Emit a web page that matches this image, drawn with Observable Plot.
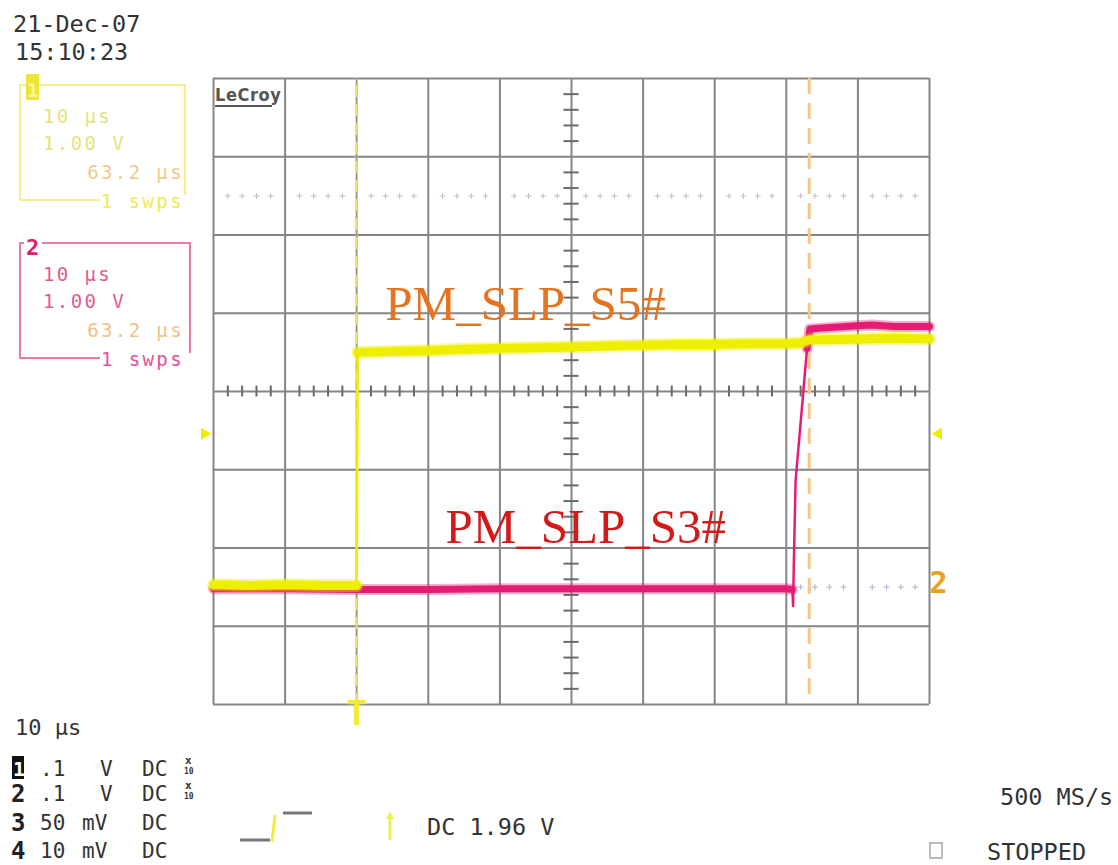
<!DOCTYPE html>
<html>
<head>
<meta charset="utf-8">
<script src="https://cdn.jsdelivr.net/npm/d3@7"></script>
<script src="https://cdn.jsdelivr.net/npm/@observablehq/plot@0.6"></script>
<style>
  html, body { margin: 0; padding: 0; background: #fff; }
  #wrap { position: relative; width: 1118px; height: 865px; overflow: hidden; background: #fff; }
  #wrap svg { position: absolute; left: 0; top: 0; }
</style>
</head>
<body>
<div id="wrap"></div>
<script>
// ---------------- DATA ----------------
// time in µs relative to trigger (10 µs/div), voltage in V (1.00 V/div), 0 V = channel ground marker
const ch1Time = [-20, -15, -10, -5, 0, 0.15, 5, 10, 15, 20, 25, 30, 35, 40, 45, 50, 55, 60, 62, 63.2, 65, 70, 75, 80];
const ch1Volt = [0.03, 0.02, 0.03, 0.02, 0.02, 3.00, 3.01, 3.02, 3.04, 3.05, 3.06, 3.07, 3.08, 3.09, 3.10, 3.10, 3.11, 3.11, 3.12, 3.16, 3.16, 3.17, 3.18, 3.17];

const ch2Time = [-20, -10, 0, 10, 20, 30, 40, 50, 60, 60.85, 60.95, 61.05, 61.3, 62.9, 63.3, 65, 70, 72, 75, 80];
const ch2Volt = [-0.02, -0.02, -0.03, -0.03, -0.02, -0.02, -0.02, -0.02, -0.02, -0.03, -0.24, 0.3, 1.36, 3.05, 3.30, 3.31, 3.34, 3.35, 3.33, 3.33];

const timeGrid = [-20, -10, 0, 10, 20, 30, 40, 50, 60, 70, 80];
const voltGrid = [-1.5, -0.5, 0.5, 1.5, 2.5, 3.5, 4.5, 5.5, 6.5];
const centerTime = 30;
const centerVolt = 2.5;

const triggerTime = 0;
const cursorTime = 63.2;
const triggerLevel = 1.96;
const refLevelHigh = 5.0;      // dotted reference line
const ch2Ground = 0;

const labelText = ["PM_SLP_S5#", "PM_SLP_S3#"];
const labelTime = [4.0, 12.4];
const labelVolt = [3.41, 0.56];

const dateText = "21-Dec-07";
const timeText = "15:10:23";
const chanBoxLines = ["10 µs", "1.00 V", "63.2 µs", "1 swps"];
const timebaseText = "10 µs";
const chanRows = [
  ["1", ".1", "V", "DC", true],
  ["2", ".1", "V", "DC", true],
  ["3", "50", "mV", "DC", false],
  ["4", "10", "mV", "DC", false]
];
const trigText = "DC 1.96 V";
const rateText = "500 MS/s";
const stateText = "STOPPED";

// ---------------- BUILD ----------------
const ch1 = ch1Time.map((t, i) => ({t, v: ch1Volt[i], lvl: ch1Volt[i] > 1.5 ? "hi" : "lo"}));
const ch2 = ch2Time.map((t, i) => ({t, v: ch2Volt[i], lvl: ch2Volt[i] > 1.5 ? "hi" : "lo"}));
const steady = d => (d.v > -0.1 && d.v < 0.1) || d.v > 2.95;
const labels = labelText.map((s, i) => ({s, t: labelTime[i], v: labelVolt[i]}));

const frac = v => ((v + 1.5) % 1 + 1) % 1;
const minorVolt = d3.range(-1.5, 6.5001, 0.2).filter(v => frac(v) > 0.05 && frac(v) < 0.95);
const minorTime = d3.range(-20, 80.001, 2).filter(t => Math.abs(t % 10) > 0.01);

const GRID = "#858585";
const YEL = "#eeee00";
const PINK = "#e41c74";

const plot = Plot.plot({
  width: 1118,
  height: 865,
  marginLeft: 213,
  marginRight: 189,
  marginTop: 78,
  marginBottom: 161,
  x: {domain: [-20, 80], axis: null},
  y: {domain: [-1.5, 6.5], axis: null},
  style: {background: "transparent", overflow: "visible"},
  marks: [
    // dotted reference lines
    Plot.dot(minorTime, {x: d => d, y: () => refLevelHigh, symbol: "plus", r: 2, stroke: "#bcbcc8", strokeWidth: 1}),
    Plot.dot(minorTime.filter(t => t > 61), {x: d => d, y: () => ch2Ground, symbol: "plus", r: 2, stroke: "#aab2c8", strokeWidth: 1}),
    // graticule
    Plot.ruleX(timeGrid, {stroke: GRID, strokeWidth: 2}),
    Plot.ruleY(voltGrid, {stroke: GRID, strokeWidth: 2}),
    Plot.ruleY(minorVolt, {y: d => d, x1: () => centerTime - 1.05, x2: () => centerTime + 1.05, stroke: "#6a6a6a", strokeWidth: 2}),
    Plot.ruleX(minorTime, {x: d => d, y1: () => centerVolt - 0.07, y2: () => centerVolt + 0.07, stroke: "#6a6a6a", strokeWidth: 2}),
    // cursor and trigger time line
    Plot.ruleX([cursorTime], {stroke: "#f2c788", strokeWidth: 3, strokeDasharray: "16,9"}),
    Plot.ruleX([triggerTime], {stroke: "#f3e070", strokeWidth: 2}),
    Plot.ruleX([triggerTime], {stroke: "#888", strokeWidth: 1, strokeDasharray: "7,12"}),
    // channel 2 (pink)
    Plot.line(ch2, {x: "t", y: "v", stroke: PINK, strokeWidth: 2.5}),
    Plot.line(ch2.filter(steady), {x: "t", y: "v", z: "lvl", stroke: PINK, strokeWidth: 11, strokeOpacity: 0.35}),
    Plot.line(ch2.filter(steady), {x: "t", y: "v", z: "lvl", stroke: PINK, strokeWidth: 7}),
    // channel 1 (yellow)
    Plot.line(ch1, {x: "t", y: "v", stroke: YEL, strokeWidth: 2.5}),
    Plot.line(ch1.filter(steady), {x: "t", y: "v", z: "lvl", stroke: YEL, strokeWidth: 13, strokeOpacity: 0.4}),
    Plot.line(ch1.filter(steady), {x: "t", y: "v", z: "lvl", stroke: YEL, strokeWidth: 9}),
    // signal names
    Plot.text(labels.slice(0, 1), {x: "t", y: "v", text: "s", textAnchor: "start", lineAnchor: "bottom",
      fill: "#e6731e", fontSize: 49, fontFamily: "Liberation Serif, Times New Roman, serif"}),
    Plot.text(labels.slice(1), {x: "t", y: "v", text: "s", textAnchor: "start", lineAnchor: "bottom",
      fill: "#d21a1a", fontSize: 49, fontFamily: "Liberation Serif, Times New Roman, serif"}),
    // trigger level markers
    Plot.dot([triggerLevel], {y: d => d, frameAnchor: "left", dx: -9, symbol: "triangle", r: 4.5, fill: YEL, rotate: 90}),
    Plot.dot([triggerLevel], {y: d => d, frameAnchor: "right", dx: 9, symbol: "triangle", r: 4.5, fill: YEL, rotate: -90}),
    // channel 2 ground marker
    Plot.text([ch2Ground], {y: d => d, frameAnchor: "right", dx: 0, dy: 6, text: () => "2", textAnchor: "start", lineAnchor: "bottom",
      fill: "#eaa21e", fontSize: 30, fontWeight: "bold", fontFamily: "DejaVu Sans Mono"}),
    // trigger time marker below graticule
    Plot.text([triggerTime], {x: d => d, frameAnchor: "bottom", text: () => "T", lineAnchor: "top", dy: -4,
      fill: "#f0ec30", fontSize: 34, fontWeight: "bold", fontFamily: "DejaVu Sans Mono"})
  ]
});
document.getElementById("wrap").appendChild(plot);

// ---------------- SCREEN ANNOTATIONS ----------------
const svg = d3.select("#wrap").append("svg").attr("width", 1118).attr("height", 865);
const MONO = "DejaVu Sans Mono, monospace";
function txt(x, y, s, o = {}) {
  return svg.append("text").attr("x", x).attr("y", y).text(s)
    .attr("font-family", o.family || MONO).attr("font-size", o.size || 23)
    .attr("font-weight", o.weight || "normal")
    .attr("letter-spacing", o.ls || 0)
    .attr("text-anchor", o.anchor || "start")
    .attr("fill", o.fill || "#333");
}

// date / time
txt(13, 32, dateText, {size: 23.5});
txt(15, 60, timeText, {size: 23.5});

// channel trace boxes
function chanBox(top, bottom, right, badge, border, badgeFill, cText, cTime, cSw) {
  svg.append("path").attr("d", `M100,${bottom} H20 V${top} H${right} V${bottom - 5}`)
    .attr("fill", "none").attr("stroke", border).attr("stroke-width", 2);
  if (badge === "1") {
    svg.append("rect").attr("x", 26).attr("y", top - 11).attr("width", 13).attr("height", 26).attr("fill", badgeFill);
    txt(27, top + 12, "1", {size: 19, weight: "bold", fill: "#f8f4a0"});
  } else {
    svg.append("rect").attr("x", 24).attr("y", top - 6).attr("width", 18).attr("height", 14).attr("fill", "#fff");
    txt(26, top + 12, "2", {size: 22, weight: "bold", fill: badgeFill});
  }
  txt(43, top + 38, chanBoxLines[0], {size: 19, ls: 2.4, fill: cText});
  txt(43, top + 65, chanBoxLines[1], {size: 19, ls: 2.4, fill: cText});
  txt(184, top + 94, chanBoxLines[2], {size: 19, ls: 2.4, fill: cTime, anchor: "end"});
  txt(184, bottom + 8, chanBoxLines[3], {size: 19, ls: 2.4, fill: cSw, anchor: "end"});
}
chanBox(85, 200, 185, "1", "#f4ef8c", "#ece436", "#e3e37c", "#f0c98c", "#eeea52");
chanBox(243, 358, 190, "2", "#e87aa8", "#e0206c", "#e25a92", "#f0c284", "#e8509a");

// LeCroy logo
txt(215, 101, "LeCroy", {size: 18, weight: "bold", family: "DejaVu Sans Condensed, DejaVu Sans", fill: "#555", ls: 0.6});
svg.append("line").attr("x1", 215).attr("x2", 272).attr("y1", 106).attr("y2", 106).attr("stroke", "#555").attr("stroke-width", 2);

// bottom-left settings
txt(15, 735, timebaseText, {size: 22});
const rowBase = [776, 801, 830, 858];
chanRows.forEach((r, i) => {
  const b = rowBase[i];
  if (i === 0) {
    svg.append("rect").attr("x", 12).attr("y", b - 20).attr("width", 12).attr("height", 23)
      .attr("fill", "#111");
    txt(13, b, r[0], {size: 20, weight: "bold", fill: "#fff"});
  } else {
    txt(11, b + 1, r[0], {size: 24, weight: "bold", fill: "#222"});
  }
  txt(40, b, r[1], {size: 21});
  txt(r[2] === "V" ? 100 : 82, b, r[2], {size: 21});
  txt(142, b, r[3], {size: 21});
  if (r[4]) {
    txt(185, b - 12, "x", {size: 11, weight: "bold"});
    txt(184, b - 2, "10", {size: 8, weight: "bold"});
  }
});

// trigger icon
svg.append("line").attr("x1", 240).attr("x2", 270).attr("y1", 840).attr("y2", 840).attr("stroke", "#777").attr("stroke-width", 3);
svg.append("line").attr("x1", 275).attr("x2", 272).attr("y1", 815).attr("y2", 842).attr("stroke", "#eeee40").attr("stroke-width", 3);
svg.append("line").attr("x1", 283).attr("x2", 312).attr("y1", 813).attr("y2", 813).attr("stroke", "#777").attr("stroke-width", 3);
svg.append("line").attr("x1", 390).attr("x2", 390).attr("y1", 815).attr("y2", 840).attr("stroke", "#eeee50").attr("stroke-width", 3);
svg.append("path").attr("d", "M386,819 L390,811 L394,819 Z").attr("fill", "#eeee50");
txt(427, 835, trigText, {size: 23.5});

// right bottom
txt(1000, 805, rateText, {size: 23.5});
svg.append("rect").attr("x", 930).attr("y", 843).attr("width", 12).attr("height", 15).attr("fill", "none").attr("stroke", "#bbb").attr("stroke-width", 2);
txt(987, 860, stateText, {size: 23.5});
</script>
</body>
</html>
